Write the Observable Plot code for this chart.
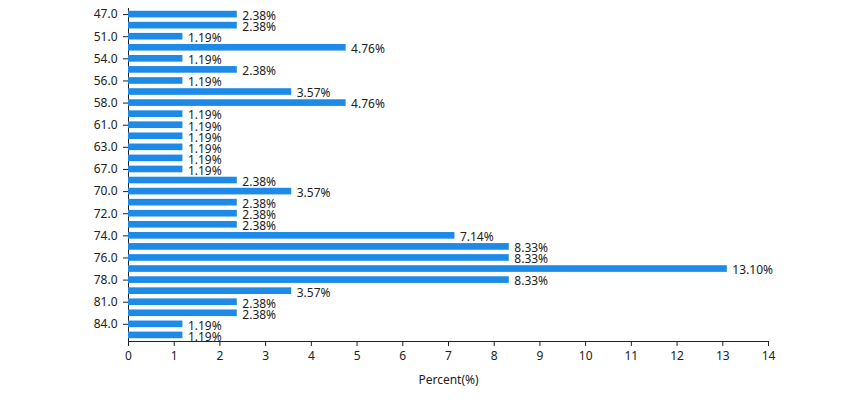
<!DOCTYPE html>
<html>
<head>
<meta charset="utf-8">
<script src="https://cdn.jsdelivr.net/npm/d3@7"></script>
<script src="https://cdn.jsdelivr.net/npm/@observablehq/plot@0.6"></script>
<style>
  body { margin: 0; background: #fff; }
  svg { font-family: "Noto Sans", "Open Sans", sans-serif; }
</style>
</head>
<body>
<div id="chart"></div>
<script>
const categories = ["47.0","49.0","51.0","52.0","54.0","55.0","56.0","57.0","58.0","60.0",
  "61.0","62.0","63.0","65.0","67.0","68.0","70.0","71.0","72.0","73.0",
  "74.0","75.0","76.0","77.0","78.0","79.0","81.0","82.0","84.0","85.0"];
const percents = [2.38,2.38,1.19,4.76,1.19,2.38,1.19,3.57,4.76,1.19,
  1.19,1.19,1.19,1.19,1.19,2.38,3.57,2.38,2.38,2.38,
  7.14,8.33,8.33,13.10,8.33,3.57,2.38,2.38,1.19,1.19];
const xTicks = [0,1,2,3,4,5,6,7,8,9,10,11,12,13,14];

const data = categories.map((c, i) => ({cat: c, pct: percents[i]}));
const yTicks = categories.filter((c, i) => i % 2 === 0);

const chart = Plot.plot({
  width: 857,
  height: 400,
  marginLeft: 128,
  marginRight: 89,
  marginTop: 8,
  marginBottom: 59,
  style: {fontSize: "12px", color: "#222", background: "#fff"},
  x: {domain: [0, 14], ticks: xTicks, label: "Percent(%)", labelAnchor: "center", labelArrow: "none", labelOffset: 42, line: true, tickSize: 5, tickPadding: 5},
  y: {domain: categories, paddingInner: 0.4, paddingOuter: 0.25, round: false, ticks: yTicks, label: null, line: true, tickSize: 5, tickPadding: 6},
  marks: [
    Plot.barX(data, {x: "pct", y: "cat", fill: "#1c8ae6"}),
    Plot.text(data, {x: "pct", y: "cat", text: d => d.pct.toFixed(2) + "%", textAnchor: "start", dx: 5, dy: 1.5, fill: "#222", fontSize: 12})
  ]
});
document.getElementById("chart").appendChild(chart);
</script>
</body>
</html>
